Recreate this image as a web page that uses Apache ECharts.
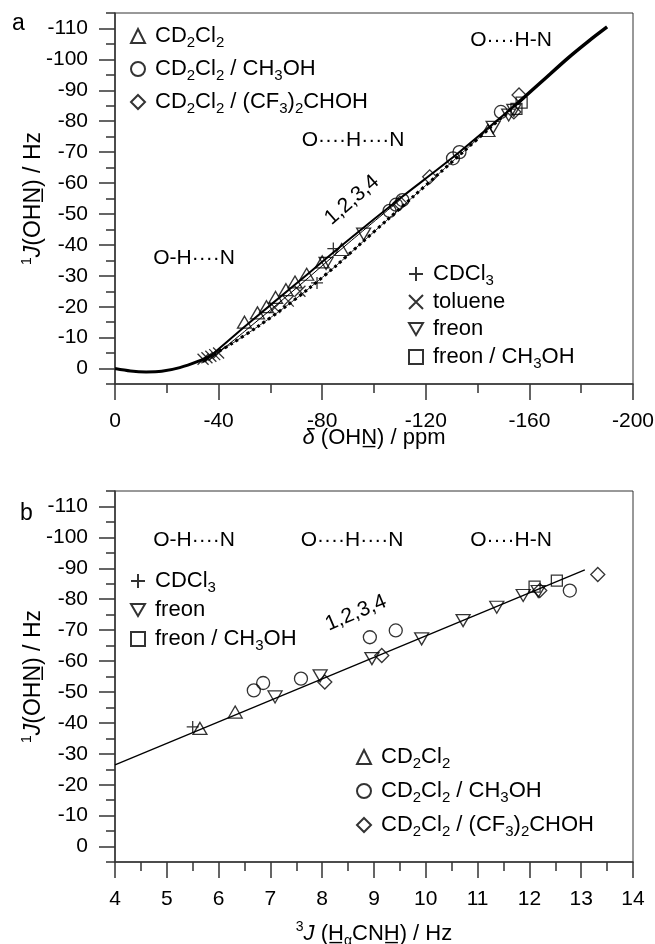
<!DOCTYPE html>
<html><head><meta charset="utf-8">
<script src="https://cdn.jsdelivr.net/npm/echarts@6/dist/echarts.min.js"></script>
<style>html,body{margin:0;padding:0;background:#fff}#c{width:655px;height:944px}</style>
</head><body><div id="c"></div>
<script>
// ---------- tick labels ----------
const yMajorTicks = [-110,-100,-90,-80,-70,-60,-50,-40,-30,-20,-10,0];
const yMinorTicks = [-115,-105,-95,-85,-75,-65,-55,-45,-35,-25,-15,-5,5];

// ---------- panel a : 1J(OHN) vs delta(OHN) ----------
const aCD2Cl2      = [[-50,-15],[-55,-18],[-58.5,-20],[-62,-23],[-66,-25.5],[-69.5,-28],[-74,-30.5],[-80,-34.5],[-87.5,-38.5],[-144,-77]];
const aCD2Cl2MeOH  = [[-106,-51],[-108.5,-53],[-111,-54.5],[-130.5,-68],[-133,-70],[-149,-83]];
const aCD2Cl2HFIP  = [[-110,-53.5],[-121.5,-62],[-154,-83],[-156,-88.5]];
const aCDCl3       = [[-84.3,-38.8],[-78,-27.7]];
const aToluene     = [[-34,-3],[-35.5,-3.5],[-37,-4],[-38.5,-4.5],[-40,-5],[-61.7,-19.7],[-66.9,-21.8],[-71.4,-25]];
const aFreon       = [[-81.5,-34],[-96,-43.5],[-146,-78],[-152,-82],[-154,-83.5]];
const aFreonMeOH   = [[-155,-84],[-157,-86]];
// calculated correlation curve (dense ends, dotted middle)
const aCalcLow  = [[0,0],[-6,0.8],[-12,1.1],[-18,0.9],[-25,-0.3],[-32,-2.3],[-38,-4.5]];
const aCalcMid  = [[-38,-4.5],[-45,-8],[-55,-13.5],[-65,-19.5],[-75,-26],[-85,-33],[-95,-40.5],[-105,-48],[-115,-55.5],[-125,-63],[-135,-70.5],[-145,-78],[-155,-85.5]];
const aCalcHigh = [[-155,-85.5],[-165,-93],[-175,-100.5],[-183,-106],[-190,-110.5]];
// solid fit lines
const aFit1 = [[-34,-2],[-50,-13.5],[-70,-27.5],[-90,-41.5],[-110,-55],[-130,-68],[-150,-82],[-158,-87.5]];
const aFit2 = [[-36,-2.5],[-50,-12],[-70,-26],[-90,-40.5],[-110,-54.5]];

// ---------- panel b : 1J(OHN) vs 3J(HaCNH) ----------
const bCDCl3      = [[5.5,-38.7]];
const bFreon      = [[7.09,-48.4],[7.96,-55.2],[8.96,-60.8],[9.92,-67.2],[10.72,-73.1],[11.37,-77.4],[11.88,-81.2],[12.17,-82.5]];
const bFreonMeOH  = [[12.1,-84.1],[12.53,-86]];
const bCD2Cl2     = [[5.64,-38.2],[6.32,-43.5]];
const bCD2Cl2MeOH = [[6.68,-50.5],[6.86,-52.9],[7.59,-54.3],[8.92,-67.7],[9.42,-69.9],[12.78,-82.8]];
const bCD2Cl2HFIP = [[8.05,-53.2],[9.15,-61.8],[12.2,-82.8],[13.32,-88]];
const bFit        = [[4,-26.4],[13.07,-89.5]];

// ---------- styling ----------
const FONT = '"Liberation Sans", Arial, Helvetica, sans-serif';
const INK = '#000';
const AX = '#333';
const FS = 21;

function richFor(size) {
  return {
    s:  {fontSize: 14, lineHeight: 14, padding: [14,0,0,0], fontFamily: FONT, color: INK},
    sup:{fontSize: 14, lineHeight: 14, padding: [0,0,13,0], fontFamily: FONT, color: INK},
    it: {fontSize: size, fontStyle: 'italic', fontFamily: FONT, color: INK}
  };
}
const legendLabels = {
  'CD2Cl2': 'CD{s|2}Cl{s|2}',
  'CD2Cl2 / CH3OH': 'CD{s|2}Cl{s|2} / CH{s|3}OH',
  'CD2Cl2 / (CF3)2CHOH': 'CD{s|2}Cl{s|2} / (CF{s|3}){s|2}CHOH',
  'CDCl3': 'CDCl{s|3}',
  'toluene': 'toluene',
  'freon': 'freon',
  'freon / CH3OH': 'freon / CH{s|3}OH'
};

const PLUS = 'path://M6,0L6,12M0,6L12,6';
const CROSS = 'path://M0,0L12,12M12,0L0,12';
const DOWN = 'path://M0,0L14,0L7,12Z';

function mk(name, data, symbol, size, xi, yi) {
  return {type: 'scatter', name, data, symbol, symbolSize: size,
    xAxisIndex: xi, yAxisIndex: yi, silent: true, z: 5,
    itemStyle: {color: 'rgba(255,255,255,0)', borderColor: INK, borderWidth: 1.3}};
}
function ln(name, data, width, type, xi, yi, smooth) {
  return {type: 'line', name, data, symbol: 'none', showSymbol: false, smooth: smooth || false,
    xAxisIndex: xi, yAxisIndex: yi, silent: true, z: 3,
    lineStyle: {color: INK, width, type: type || 'solid', cap: 'butt'}};
}
function yAxes(g, name) {
  return [
    {gridIndex: g, type: 'value', min: -115, max: 5, interval: 5, inverse: true, position: 'left',
     axisLine: {show: true, onZero: false, lineStyle: {color: AX, width: 1.5}},
     axisTick: {show: true, length: 16, customValues: yMajorTicks, lineStyle: {color: AX, width: 1.5}},
     axisLabel: {customValues: yMajorTicks, fontSize: FS, fontFamily: FONT, color: INK, margin: 27},
     splitLine: {show: false},
     name, nameLocation: 'middle', nameRotate: 90, nameGap: 70, nameMoveOverlap: false,
     nameTextStyle: {fontSize: 23, fontFamily: FONT, color: INK, rich: richFor(23)}},
    {gridIndex: g, type: 'value', min: -115, max: 5, interval: 5, inverse: true, position: 'left',
     axisLine: {show: false, onZero: false},
     axisTick: {show: true, length: 9, customValues: yMinorTicks, lineStyle: {color: AX, width: 1.5}},
     axisLabel: {show: false}, splitLine: {show: false}}
  ];
}
function legend(data, left, top, gap) {
  return {data, left, top, orient: 'vertical', itemGap: gap, itemWidth: 14, itemHeight: 14, padding: 0,
    selectedMode: false, formatter: n => legendLabels[n] || n,
    textStyle: {fontSize: 22, fontFamily: FONT, color: INK, lineHeight: 26, padding: [0,0,0,5],
      rich: {s: {fontSize: 15, lineHeight: 15, padding: [13,0,0,0], fontFamily: FONT, color: INK}}}};
}
function txt(text, x, y, size, rot) {
  return {type: 'text', x, y, rotation: rot || 0, silent: true,
    style: {text, font: size + 'px ' + FONT, fill: INK, align: 'center', verticalAlign: 'middle',
      textAlign: 'center', textVerticalAlign: 'middle'}};
}

const option = {
  animation: false,
  backgroundColor: '#fff',
  grid: [
    {left: 115, right: 22, top: 13, height: 371, show: true, borderColor: AX, borderWidth: 1,
     containLabel: false, outerBoundsMode: 'none'},
    {left: 115, right: 22, top: 491, height: 371, show: true, borderColor: AX, borderWidth: 1,
     containLabel: false, outerBoundsMode: 'none'}
  ],
  xAxis: [
    {gridIndex: 0, type: 'value', min: -200, max: 0, interval: 40, inverse: true,
     axisLine: {onZero: false, lineStyle: {color: AX, width: 1.5}},
     axisTick: {length: 16, lineStyle: {color: AX, width: 1.5}},
     minorTick: {show: true, splitNumber: 2, length: 9, lineStyle: {color: AX, width: 1.5}},
     axisLabel: {fontSize: FS, fontFamily: FONT, color: INK, margin: 27},
     splitLine: {show: false}, minorSplitLine: {show: false},
     name: '{it|\u03B4} (OHN\u0332) / ppm', nameLocation: 'middle', nameGap: 43, nameMoveOverlap: false,
     nameTextStyle: {fontSize: 22, fontFamily: FONT, color: INK, rich: richFor(22)}},
    {gridIndex: 1, type: 'value', min: 4, max: 14, interval: 1,
     axisLine: {onZero: false, lineStyle: {color: AX, width: 1.5}},
     axisTick: {length: 16, lineStyle: {color: AX, width: 1.5}},
     minorTick: {show: true, splitNumber: 2, length: 9, lineStyle: {color: AX, width: 1.5}},
     axisLabel: {fontSize: FS, fontFamily: FONT, color: INK, margin: 27},
     splitLine: {show: false}, minorSplitLine: {show: false},
     name: '{sup|3}{it|J} (H\u0332{s|\u03B1}CNH\u0332) / Hz', nameLocation: 'middle', nameGap: 61, nameMoveOverlap: false,
     nameTextStyle: {fontSize: 22, fontFamily: FONT, color: INK, rich: richFor(22)}}
  ],
  yAxis: [
    ...yAxes(0, '{sup|1}{it|J}(OHN\u0332) / Hz'),
    ...yAxes(1, '{sup|1}{it|J}(OHN\u0332) / Hz')
  ],
  legend: [
    legend(['CD2Cl2', 'CD2Cl2 / CH3OH', 'CD2Cl2 / (CF3)2CHOH'], 130, 22, 5),
    legend(['CDCl3', 'toluene', 'freon', 'freon / CH3OH'], 408, 260, 1),
    legend(['CDCl3', 'freon', 'freon / CH3OH'], 130, 567, 2),
    legend(['CD2Cl2', 'CD2Cl2 / CH3OH', 'CD2Cl2 / (CF3)2CHOH'], 356, 743, 6)
  ],
  graphic: [
    txt('a', 18.5, 24, 23), txt('b', 26.5, 514, 23),
    txt('O-H\u00B7\u00B7\u00B7\u00B7N', 194, 258, 21),
    txt('O\u00B7\u00B7\u00B7\u00B7H\u00B7\u00B7\u00B7\u00B7N', 353, 140, 21),
    txt('O\u00B7\u00B7\u00B7\u00B7H-N', 511, 40, 21),
    txt('1,2,3,4', 352, 200, 21, 0.716),
    txt('O-H\u00B7\u00B7\u00B7\u00B7N', 194, 540, 21),
    txt('O\u00B7\u00B7\u00B7\u00B7H\u00B7\u00B7\u00B7\u00B7N', 352, 540, 21),
    txt('O\u00B7\u00B7\u00B7\u00B7H-N', 511, 540, 21),
    txt('1,2,3,4', 356, 613, 21, 0.40)
  ],
  series: [
    ln('calcLow', aCalcLow, 3, 'solid', 0, 0, 0.3),
    ln('calcMidLine', aCalcMid, 0.8, 'solid', 0, 0, 0.3),
    ln('calcMidDots', aCalcMid, 3, [3, 3.5], 0, 0, 0.3),
    ln('calcHigh', aCalcHigh, 3.5, 'solid', 0, 0, 0.3),
    ln('fit1', aFit1, 2, 'solid', 0, 0, 0.3),
    ln('fit2', aFit2, 1, 'solid', 0, 0, 0.3),
    mk('CD2Cl2', aCD2Cl2, 'triangle', [14, 12], 0, 0),
    mk('CD2Cl2 / CH3OH', aCD2Cl2MeOH, 'circle', 13, 0, 0),
    mk('CD2Cl2 / (CF3)2CHOH', aCD2Cl2HFIP, 'diamond', 14, 0, 0),
    mk('CDCl3', aCDCl3, PLUS, 12, 0, 0),
    mk('toluene', aToluene, CROSS, 11, 0, 0),
    mk('freon', aFreon, DOWN, [14, 12], 0, 0),
    mk('freon / CH3OH', aFreonMeOH, 'rect', 11, 0, 0),

    ln('fitB', bFit, 1.3, 'solid', 1, 2),
    mk('CDCl3', bCDCl3, PLUS, 12, 1, 2),
    mk('freon', bFreon, DOWN, [14, 12], 1, 2),
    mk('freon / CH3OH', bFreonMeOH, 'rect', 11, 1, 2),
    mk('CD2Cl2', bCD2Cl2, 'triangle', [14, 12], 1, 2),
    mk('CD2Cl2 / CH3OH', bCD2Cl2MeOH, 'circle', 13, 1, 2),
    mk('CD2Cl2 / (CF3)2CHOH', bCD2Cl2HFIP, 'diamond', 14, 1, 2)
  ]
};
const chart = echarts.init(document.getElementById('c'), null, {renderer: 'canvas'});
chart.setOption(option);
</script></body></html>
